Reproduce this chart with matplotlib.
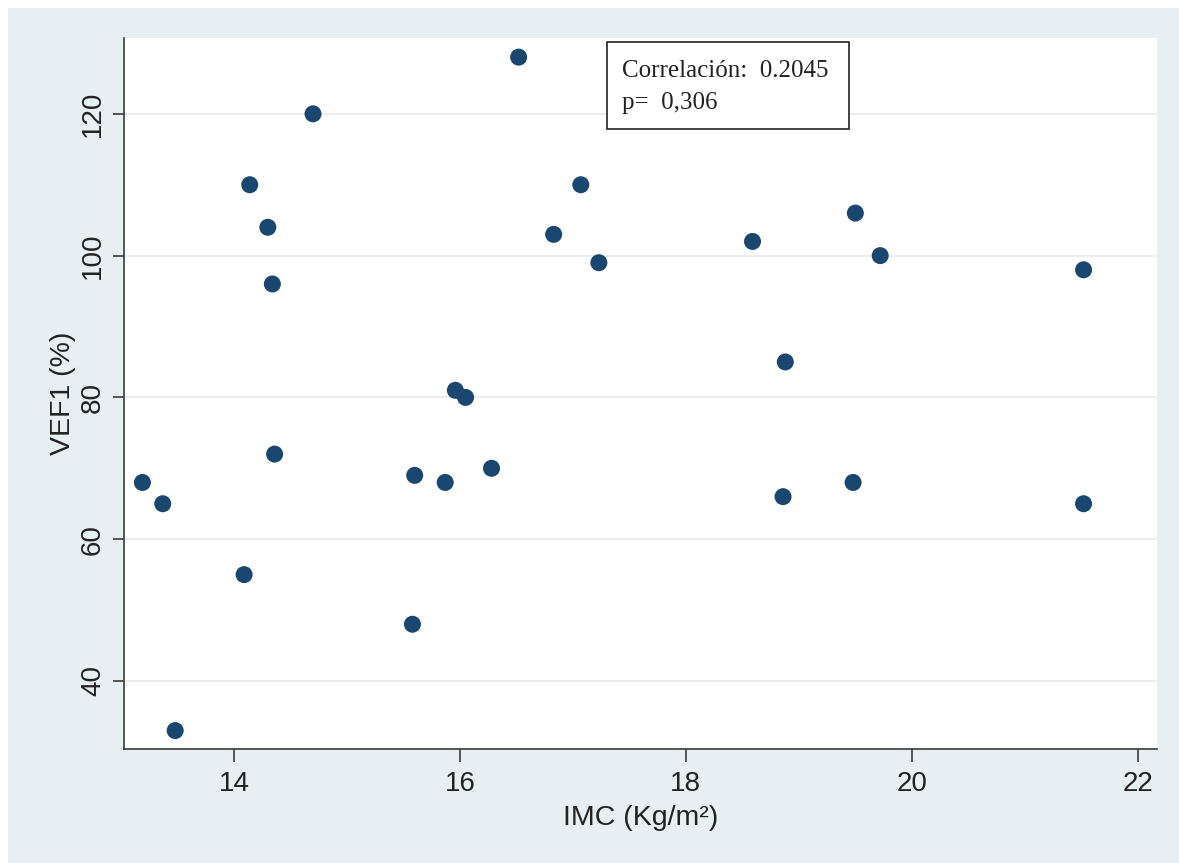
import matplotlib as mpl
mpl.use('Agg')
import matplotlib.pyplot as plt
from matplotlib.patches import Rectangle

imc = [13.19, 13.37, 13.48, 14.09, 14.14, 14.30, 14.34, 14.36, 14.70,
       15.58, 15.60, 15.87, 15.96, 16.05, 16.28, 16.52, 16.83, 17.07,
       17.23, 18.59, 18.86, 18.88, 19.48, 19.50, 19.72, 21.52, 21.52]
vef1 = [68, 65, 33, 55, 110, 104, 96, 72, 120,
        48, 69, 68, 81, 80, 70, 128, 103, 110,
        99, 102, 66, 85, 68, 106, 100, 98, 65]

x_ticks = [14, 16, 18, 20, 22]
y_ticks = [40, 60, 80, 100, 120]

W, H = 1179, 863
bg = '#e8eff2'
axis_col = '#3a3a3a'

plt.rcParams['font.family'] = ['Liberation Sans', 'DejaVu Sans']

fig = plt.figure(figsize=(W / 100, H / 100), dpi=100, facecolor='white')
# stata-like outer background (small white strip at top/left)
fig.patches.append(Rectangle((8 / W, 0), 1 - 8 / W, 1 - 8 / H,
                             transform=fig.transFigure, facecolor=bg,
                             edgecolor='none', zorder=-10))

ax = fig.add_axes([124 / W, 1 - 749 / H, (1157 - 124) / W, (749 - 38) / H])
ax.set_facecolor('white')

ax.scatter(imc, vef1, s=150, color='#1a476f', edgecolors='none', zorder=3)

ax.set_xlim(13.027, 22.17)
ax.set_ylim(30.4, 130.7)
ax.set_xticks(x_ticks)
ax.set_yticks(y_ticks)

ax.yaxis.grid(True, color='#eaeaea', linewidth=1.2)
ax.set_axisbelow(True)

for side in ['top', 'right']:
    ax.spines[side].set_visible(False)
for side in ['left', 'bottom']:
    ax.spines[side].set_color(axis_col)
    ax.spines[side].set_linewidth(1.2)

ax.tick_params(axis='x', length=9, width=1.2, color=axis_col, pad=7,
               labelsize=20, labelcolor='#222222')
ax.tick_params(axis='y', length=8, width=1.2, color=axis_col, pad=5,
               labelsize=20, labelcolor='#222222', labelrotation=90)
for lbl in ax.get_yticklabels():
    lbl.set_va('center')

ax.set_xlabel('IMC (Kg/m²)', fontsize=20.5, color='#222222')
ax.set_ylabel('VEF1 (%)', fontsize=20.5, color='#222222')
ax.xaxis.set_label_coords(0.5, -0.079)
ax.yaxis.set_label_coords(-0.046, 0.5)

# annotation box
fig.patches.append(Rectangle((607 / W, 1 - 129 / H), (849 - 607) / W, (129 - 42) / H,
                             transform=fig.transFigure, facecolor='white',
                             edgecolor='#222222', linewidth=1.2, zorder=5))
fig.text(622 / W, 1 - 71 / H, 'Correlación:  0.2045', family='Liberation Serif',
         fontsize=18, color='#222222', va='center', zorder=6)
fig.text(622 / W, 1 - 103 / H, 'p=  0,306', family='Liberation Serif',
         fontsize=18, color='#222222', va='center', zorder=6)

fig.savefig('out.png', dpi=100, facecolor=fig.get_facecolor())
